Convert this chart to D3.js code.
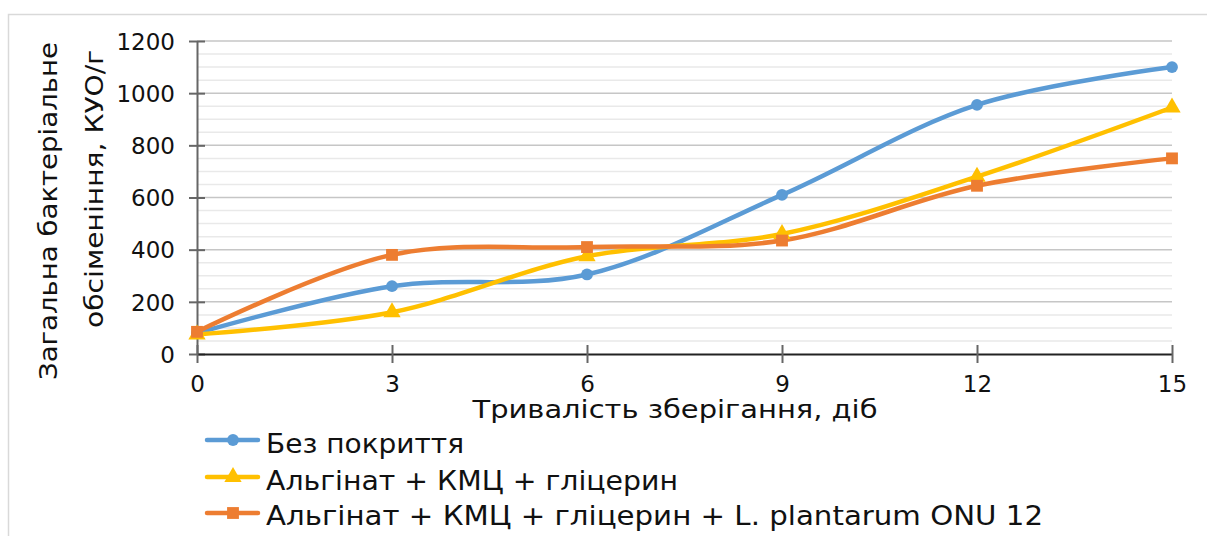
<!DOCTYPE html>
<html><head><meta charset="utf-8">
<script src="https://cdn.jsdelivr.net/npm/d3@7"></script>
<style>body{margin:0;background:#fff;}svg{display:block;font-family:"DejaVu Sans",Verdana,sans-serif;}</style>
</head><body>
<script>
const days = [0, 3, 6, 9, 12, 15];
const seriesNames = ["Без покриття", "Альгінат + КМЦ + гліцерин", "Альгінат + КМЦ + гліцерин + L. plantarum ONU 12"];
const noCoating = [80, 260, 305, 610, 955, 1100];
const alginate = [75, 160, 375, 460, 680, 945];
const alginateLp = [85, 380, 410, 435, 645, 750];
const yTicks = [0, 200, 400, 600, 800, 1000, 1200];
const xTitle = "Тривалість зберігання, діб";
const yTitle = ["Загальна бактеріальне", "обсіменіння, КУО/г"];

const colors = ["#5B9BD5", "#FFC000", "#ED7D31"];
const markers = ["circle", "triangle", "square"];
const data = [noCoating, alginate, alginateLp];
const legendWidths = [198, 412, 777];

const W = 1207, H = 536;
const svg = d3.select("body").append("svg").attr("width", W).attr("height", H);

// outer frame
svg.append("path").attr("d", `M8.5,${H} V14.5 H${W}`).attr("fill", "none").attr("stroke", "#d9d9d9").attr("stroke-width", 1.5);

const x = d3.scaleLinear().domain([0, 15]).range([197, 1172]);
const y = d3.scaleLinear().domain([0, 1200]).range([354, 41]);

// minor gridlines
const minor = d3.range(50, 1201, 50).filter(v => v % 200 !== 0);
svg.append("g").selectAll("line").data(minor).join("line")
  .attr("x1", x(0)).attr("x2", x(15)).attr("y1", d => y(d)).attr("y2", d => y(d))
  .attr("stroke", "#e9e9e9").attr("stroke-width", 1.5);
// major gridlines
svg.append("g").selectAll("line").data(yTicks.filter(v => v > 0)).join("line")
  .attr("x1", x(0)).attr("x2", x(15)).attr("y1", d => y(d)).attr("y2", d => y(d))
  .attr("stroke", "#c6c6c6").attr("stroke-width", 1.5);

// y axis
const yAxis = d3.axisLeft(y).tickValues(yTicks).tickFormat(d3.format("d")).tickSizeInner(8).tickSizeOuter(0).tickPadding(14);
const gy = svg.append("g").attr("transform", `translate(${x(0)},0)`).call(yAxis);
gy.select(".domain").attr("stroke", "#666").attr("stroke-width", 2);
gy.selectAll(".tick line").attr("stroke", "#666").attr("stroke-width", 2).attr("x1", 8).attr("x2", -8);
gy.selectAll(".tick text").attr("font-size", 23).attr("fill", "#111").attr("font-family", "DejaVu Sans, Verdana, sans-serif").attr("dy", "0.36em");

// x axis
const xAxis = d3.axisBottom(x).tickValues(days).tickFormat(d3.format("d")).tickSizeInner(9).tickSizeOuter(0).tickPadding(13);
const gx = svg.append("g").attr("transform", `translate(0,${y(0)})`).call(xAxis);
gx.select(".domain").attr("stroke", "#222").attr("stroke-width", 2);
gx.selectAll(".tick line").attr("stroke", "#666").attr("stroke-width", 2).attr("y1", -9).attr("y2", 9);
gx.selectAll(".tick text").attr("font-size", 23).attr("fill", "#111").attr("font-family", "DejaVu Sans, Verdana, sans-serif");

// lines
const line = d3.line().x((d, i) => x(days[i])).y(d => y(d)).curve(d3.curveCatmullRom.alpha(0.5));
const symbolFor = {
  circle: d3.symbol().type(d3.symbolCircle).size(110),
  triangle: d3.symbol().type(d3.symbolTriangle).size(130),
  square: d3.symbol().type(d3.symbolSquare).size(140)
};
data.forEach((vals, s) => {
  svg.append("path").datum(vals).attr("d", line).attr("fill", "none")
    .attr("stroke", colors[s]).attr("stroke-width", 4.5).attr("stroke-linejoin", "round").attr("stroke-linecap", "round");
});
data.forEach((vals, s) => {
  svg.append("g").selectAll("path").data(vals).join("path")
    .attr("d", symbolFor[markers[s]])
    .attr("transform", (d, i) => `translate(${x(days[i])},${y(d)})`)
    .attr("fill", colors[s]);
});

// axis titles
svg.append("text").attr("x", 675).attr("y", 418).attr("text-anchor", "middle")
  .attr("font-size", 25).attr("fill", "#111")
  .attr("textLength", 405).attr("lengthAdjust", "spacingAndGlyphs").text(xTitle);
svg.append("text").attr("transform", "translate(57,211) rotate(-90)").attr("text-anchor", "middle")
  .attr("font-size", 25).attr("fill", "#111")
  .attr("textLength", 338).attr("lengthAdjust", "spacingAndGlyphs").text(yTitle[0]);
svg.append("text").attr("transform", "translate(103,189) rotate(-90)").attr("text-anchor", "middle")
  .attr("font-size", 25).attr("fill", "#111")
  .attr("textLength", 278).attr("lengthAdjust", "spacingAndGlyphs").text(yTitle[1]);

// legend
const lg = svg.append("g");
const lineYs = [440, 477, 513];
const baseYs = [453, 490, 525];
seriesNames.forEach((name, s) => {
  const cy = lineYs[s];
  lg.append("line").attr("x1", 207).attr("x2", 258).attr("y1", cy).attr("y2", cy)
    .attr("stroke", colors[s]).attr("stroke-width", 4.5).attr("stroke-linecap", "round");
  lg.append("path").attr("d", symbolFor[markers[s]]).attr("transform", `translate(233,${cy})`).attr("fill", colors[s]);
  lg.append("text").attr("x", 266).attr("y", baseYs[s]).attr("font-size", 26).attr("fill", "#111")
    .attr("textLength", legendWidths[s]).attr("lengthAdjust", "spacingAndGlyphs").text(name);
});
</script>
</body></html>
